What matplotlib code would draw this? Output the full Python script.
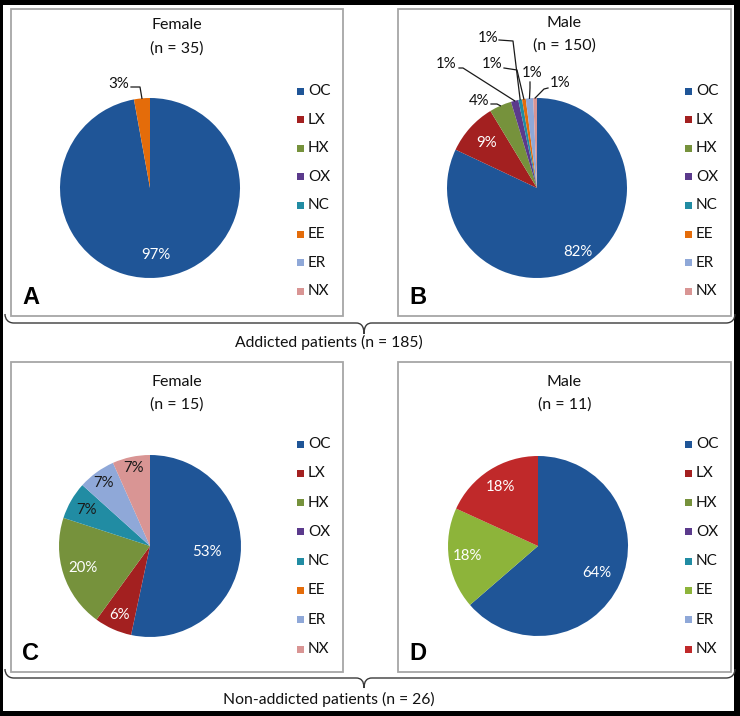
import numpy as np
import matplotlib
matplotlib.use("Agg")
import matplotlib.pyplot as plt
from matplotlib.patches import Rectangle, PathPatch
from matplotlib.path import Path

# ---------------- data ----------------
categories = ['OC', 'LX', 'HX', 'OX', 'NC', 'EE', 'ER', 'NX']
counts_A = [34, 0, 0, 0, 0, 1, 0, 0]          # addicted, female (n = 35)
counts_B = [123, 14, 6, 2, 1, 1, 2, 1]        # addicted, male (n = 150)
counts_C = [8, 1, 3, 0, 1, 0, 1, 1]           # non-addicted, female (n = 15)
counts_D = [7, 0, 0, 0, 0, 2, 0, 2]           # non-addicted, male (n = 11)
labels_A = ['97%', '', '', '', '', '3%', '', '']
labels_B = ['82%', '9%', '4%', '1%', '1%', '1%', '1%', '1%']
labels_C = ['53%', '6%', '20%', '', '7%', '', '7%', '7%']
labels_D = ['64%', '', '', '', '', '18%', '', '18%']
titles = ['Female\n(n = 35)', 'Male\n(n = 150)', 'Female\n(n = 15)', 'Male\n(n = 11)']
panel_letters = ['A', 'B', 'C', 'D']
group_labels = ['Addicted patients (n = 185)', 'Non-addicted patients (n = 26)']

colors_main = ['#1F5597', '#A32020', '#76923C', '#5B3A8C', '#218CA3', '#E46C0A', '#8FA8D8', '#D99594']
colors_D = ['#1F5597', '#A32020', '#76923C', '#5B3A8C', '#218CA3', '#8DB43A', '#8FA8D8', '#C0292A']

# ---------------- layout ----------------
W, H = 740, 716
FONT = ['Lato', 'DejaVu Sans']
plt.rcParams['font.family'] = FONT

fig = plt.figure(figsize=(W / 100, H / 100), dpi=100)
fig.patch.set_facecolor('white')
ov = fig.add_axes([0, 0, 1, 1])
ov.set_xlim(0, W)
ov.set_ylim(H, 0)
ov.axis('off')

def px_axes(cx, cy, r):
    return fig.add_axes([(cx - r) / W, 1 - (cy + r) / H, 2 * r / W, 2 * r / H])

# black outer frame
for (x, y, w, h) in [(0, 0, W, 5), (0, H - 5, W, 5), (0, 0, 3, H), (W - 6, 0, 6, H)]:
    ov.add_patch(Rectangle((x, y), w, h, facecolor='black', edgecolor='none', zorder=5))

# panel boxes
boxes = [(11, 9, 332, 307), (398, 9, 333, 307), (11, 362, 332, 310), (398, 362, 333, 310)]
for (x, y, w, h) in boxes:
    ov.add_patch(Rectangle((x, y), w, h, facecolor='white', edgecolor='#A6A6A6', lw=1.3, zorder=1))

# titles, letters, legends
title_y = [(25, 49), (23, 46), (382, 405), (382, 405)]
legend_top = [91, 91, 444, 444]
legend_step = [28.6, 28.6, 29.3, 29.3]
for k, (x, y, w, h) in enumerate(boxes):
    l1, l2 = titles[k].split('\n')
    ov.text(x + w / 2, title_y[k][0], l1, ha='center', va='center', fontsize=11.5, color='#111111', zorder=3)
    ov.text(x + w / 2, title_y[k][1], l2, ha='center', va='center', fontsize=11.5, color='#111111', zorder=3)
    ov.text(x + 11, y + h - 18, panel_letters[k], ha='left', va='center', fontsize=17,
            fontweight='bold', family=['Liberation Sans', 'DejaVu Sans'], color='black', zorder=3)
    cols = colors_D if k == 3 else colors_main
    for i, cat in enumerate(categories):
        yy = legend_top[k] + i * legend_step[k]
        sx = x + w - 46
        ov.add_patch(Rectangle((sx, yy - 3.5), 7, 7, facecolor=cols[i], edgecolor='none', zorder=3))
        ov.text(sx + 11, yy, cat, ha='left', va='center', fontsize=11, color='#111111', zorder=3)

# braces
def brace(x0, x1, xt, ye, yh, yt):
    verts = [(x0, ye), (x0, ye + 5), (x0 + 3, yh), (x0 + 9, yh), (xt - 8, yh),
             (xt - 3, yh), (xt, yh + 3), (xt, yt),
             (xt, yh + 3), (xt + 3, yh), (xt + 8, yh), (x1 - 9, yh),
             (x1 - 3, yh), (x1, ye + 5), (x1, ye)]
    codes = [Path.MOVETO, Path.CURVE4, Path.CURVE4, Path.CURVE4, Path.LINETO,
             Path.CURVE4, Path.CURVE4, Path.CURVE4,
             Path.CURVE4, Path.CURVE4, Path.CURVE4, Path.LINETO,
             Path.CURVE4, Path.CURVE4, Path.CURVE4]
    ov.add_patch(PathPatch(Path(verts, codes), facecolor='none', edgecolor='#3a3a3a', lw=1.0, zorder=6))

brace(5, 735, 364, 314, 323, 334)
brace(5, 735, 364, 669, 678, 688)
ov.text(329, 342, group_labels[0], ha='center', va='center', fontsize=11.3, color='#111111', zorder=7)
ov.text(329, 699, group_labels[1], ha='center', va='center', fontsize=11.3, color='#111111', zorder=7)

# ---------------- pies ----------------
def draw_pie(cx, cy, r, counts, cols, labels, inside, outside):
    ax = px_axes(cx, cy, r)
    ax.axis('off')
    wedges, _ = ax.pie(counts, colors=cols, startangle=90, counterclock=False, radius=1,
                       wedgeprops=dict(linewidth=0), normalize=True)
    ax.set_xlim(-1, 1)
    ax.set_ylim(-1, 1)
    for i, (d, c) in inside.items():
        w = wedges[i]
        a = np.deg2rad((w.theta1 + w.theta2) / 2)
        ax.text(d * np.cos(a), d * np.sin(a), labels[i], ha='center', va='center',
                fontsize=10.8, color=c)
    for i, (tpos, start, elbow) in outside.items():
        w = wedges[i]
        a = np.deg2rad((w.theta1 + w.theta2) / 2)
        ex, ey = np.cos(a), np.sin(a)
        tx, ty = tpos[0] / r, -tpos[1] / r
        ax.text(tx, ty, labels[i], ha='center', va='center', fontsize=10.8, color='#111111', clip_on=False)
        xs = [start[0] / r, elbow[0] / r, ex]
        ys = [-start[1] / r, -elbow[1] / r, ey]
        ax.plot(xs, ys, color='#1a1a1a', lw=0.9, clip_on=False)
    return ax

draw_pie(150, 188, 90, counts_A, colors_main, labels_A,
         inside={0: (0.75, 'white')},
         outside={5: ((-31, -104), (-19, -101), (-10, -101))})

draw_pie(537, 188, 90, counts_B, colors_main, labels_B,
         inside={0: (0.84, 'white'), 1: (0.75, 'white')},
         outside={2: ((-58, -87), (-46, -84), (-40, -84)),
                  3: ((-91, -124), (-78, -120), (-74, -120)),
                  4: ((-49, -150), (-38, -148), (-24, -147)),
                  5: ((-45, -124), (-33, -120), (-20, -118)),
                  6: ((-5, -115), (-7, -106), (-7, -100)),
                  7: ((23, -105), (11, -100), (7, -99))})

draw_pie(150, 546, 91, counts_C, colors_main, labels_C,
         inside={0: (0.63, 'white'), 1: (0.83, 'white'), 2: (0.78, 'white'),
                 4: (0.80, '#1a1a1a'), 6: (0.86, '#1a1a1a'), 7: (0.88, '#1a1a1a')},
         outside={})

draw_pie(538, 546, 90, counts_D, colors_D, labels_D,
         inside={0: (0.72, 'white'), 5: (0.79, 'white'), 7: (0.78, 'white')},
         outside={})

fig.savefig('out.png', dpi=100, facecolor='white')
